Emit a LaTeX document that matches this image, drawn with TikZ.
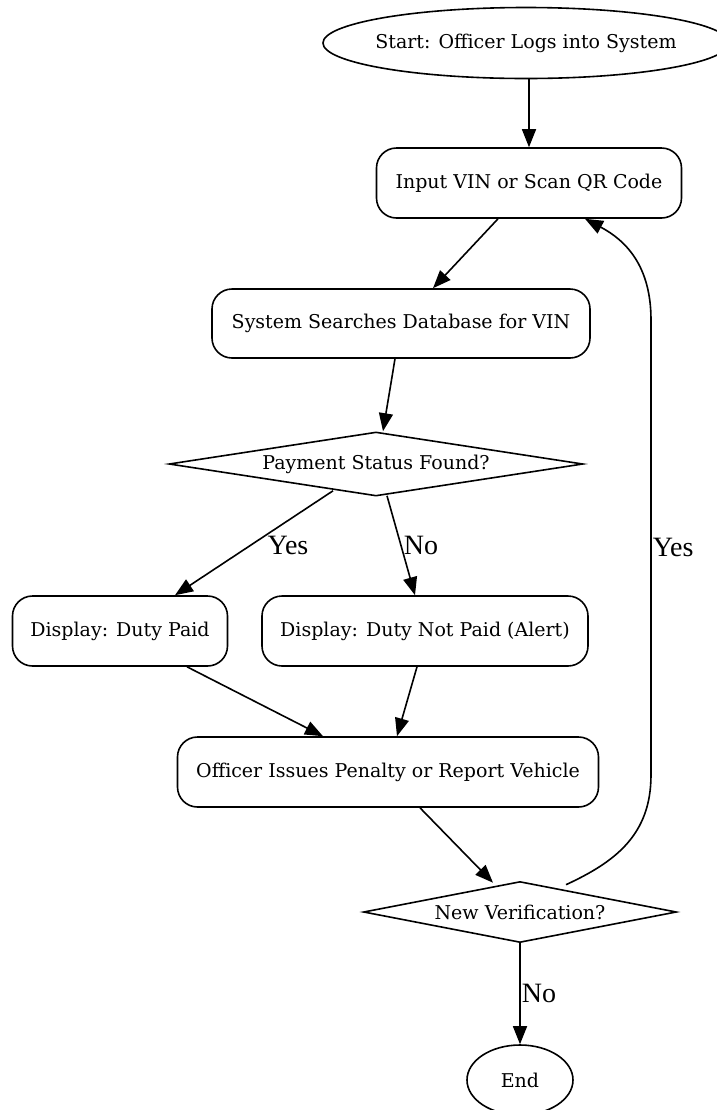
\documentclass[tikz,border=0pt]{standalone}
\usepackage{fontspec}
\setmainfont{DejaVu Serif}
\newfontfamily\labelfont{Liberation Serif}
\usetikzlibrary{shapes.geometric,arrows.meta}
\tikzset{>={Triangle[length=9pt,width=7pt]}}
\tikzset{
	boxnode/.style={draw, rounded corners=10pt, line width=0.8pt, inner sep=0pt, font=\fontsize{9.5}{11}\selectfont},
	ovalnode/.style={draw, ellipse, line width=0.8pt, inner sep=0pt, font=\fontsize{9.5}{11}\selectfont},
	asknode/.style={draw, diamond, aspect=6.5, line width=0.8pt, inner sep=0pt, font=\fontsize{9.5}{11}\selectfont},
	flow/.style={->, line width=0.8pt},
	edgelabel/.style={anchor=west, inner sep=0pt, font=\labelfont\fontsize{14}{16}\selectfont}
}

\begin{document}
\begin{tikzpicture}[x=0.5pt, y=-0.5pt]
				\useasboundingbox (0,0) rectangle (717,1110);
				% nodes
				\node [ovalnode, inner xsep=-3.5pt, minimum width=192pt, minimum height=35.5pt] (start) at (526,43) {Start: Officer Logs into System};
				\node [boxnode, minimum width=152.5pt, minimum height=35pt] (input) at (529,183) {Input VIN or Scan QR Code};
				\node [boxnode, minimum width=189pt, minimum height=34.5pt] (search) at (401,323.5) {System Searches Database for VIN};
				\node [asknode, minimum width=207pt, minimum height=32pt] (payment) at (376,464) {Payment Status Found?};
				\node [boxnode, minimum width=107.5pt, minimum height=35pt] (paid) at (120,631) {Display: Duty Paid};
				\node [boxnode, minimum width=163pt, minimum height=35pt] (notpaid) at (425,631) {Display: Duty Not Paid (Alert)};
				\node [boxnode, minimum width=210.5pt, minimum height=35pt] (officer) at (388,772) {Officer Issues Penalty or Report Vehicle};
				\node [asknode, minimum width=156.5pt, minimum height=30.5pt] (newver) at (520,912) {New Verification?};
				\node [ovalnode, minimum width=53pt, minimum height=35pt] (stop) at (520,1080) {End};
				% connectors
				\draw [flow] ([xshift=1.5pt]start.south) -- (input.north);
				\draw [flow] ([xshift=-15.5pt]input.south) -- ([xshift=16pt]search.north);
				\draw [flow] ([xshift=-3pt]search.south) -- ([xshift=3.5pt]payment.north);
				\draw [flow] ([xshift=-21.5pt,yshift=3pt]payment.south) -- ([xshift=27.5pt]paid.north)
					node [edgelabel, pos=0.52, xshift=8pt] {Yes};
				\draw [flow] ([xshift=5.5pt,yshift=0.5pt]payment.south) -- ([xshift=-5pt]notpaid.north)
					node [edgelabel, pos=0.5, xshift=1pt] {No};
				\draw [flow] ([xshift=33.5pt]paid.south) -- ([xshift=-32.5pt]officer.north);
				\draw [flow] ([xshift=-4pt]notpaid.south) -- ([xshift=4.5pt]officer.north);
				\draw [flow] ([xshift=16pt]officer.south) -- ([xshift=-13.5pt,yshift=-1pt]newver.north);
				\draw [flow] (newver.south) -- (stop.north)
					node [edgelabel, pos=0.5, xshift=0.5pt] {No};
				\draw [flow] ([xshift=23pt,yshift=-2pt]newver.north) .. controls (615,862) and (651,835) .. (651,775)
					-- (651,320) node [edgelabel, pos=0.5, xshift=0.5pt] {Yes}
					.. controls (651,265) and (625,240) .. ([xshift=28pt]input.south);
\end{tikzpicture}
\end{document}
